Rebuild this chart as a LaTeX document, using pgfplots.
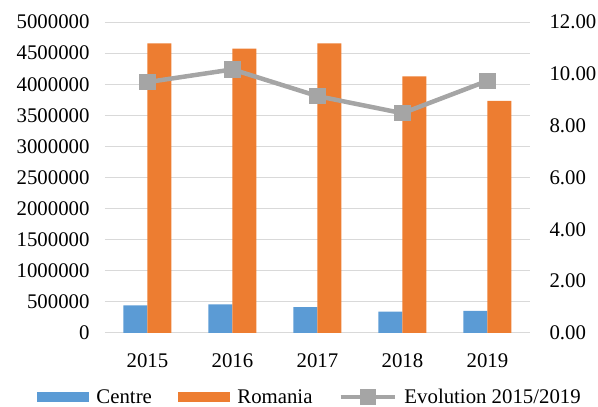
\documentclass[border=0pt]{standalone}
\usepackage{pgfplots}
\pgfplotsset{compat=1.18}
\usepackage{fontspec}
\setmainfont{Liberation Serif}
\definecolor{cblue}{HTML}{5B9BD5}
\definecolor{corange}{HTML}{ED7D31}
\definecolor{cgray}{HTML}{A5A5A5}
\definecolor{cgrid}{HTML}{D9D9D9}
\begin{document}
\begin{tikzpicture}
\path[use as bounding box] (-105pt,-74pt) rectangle (493pt,333pt);
\begin{axis}[
  scale only axis, width=425pt, height=311pt,
  xmin=-0.5, xmax=4.5, ymin=0, ymax=5000000,
  xtick={0,1,2,3,4}, xticklabels={2015,2016,2017,2018,2019},
  ytick distance=500000,
  scaled y ticks=false,
  axis lines*=left, axis line style={draw=none},
  major tick length=0pt,
  ymajorgrids, grid style={cgrid, line width=1pt},
  /pgf/number format/assume math mode=true,
  y tick label style={/tikz/xshift=-12pt},
  yticklabel style={/pgf/number format/.cd, fixed, 1000 sep={}},
  tick label style={font=\fontsize{20.8}{24}\selectfont},
  xticklabel style={yshift=-17pt},
  legend columns=3,
  legend style={at={(0.482,-0.206)}, anchor=center, draw=none, fill=none,
    font=\fontsize{20.8}{24}\selectfont,
    /tikz/every odd column/.append style={column sep=5.5pt},
    /tikz/every even column/.append style={column sep=24pt}},
]
\addplot[ybar, bar width=24pt, bar shift=-12pt, fill=cblue, draw=none,
  legend image code/.code={\fill[cblue] (0pt,-5pt) rectangle (52pt,5pt);}]
  coordinates {(0,445000) (1,461000) (2,418000) (3,343000) (4,354000)};
\addlegendentry{Centre}
\addplot[ybar, bar width=24pt, bar shift=12pt, fill=corange, draw=none,
  legend image code/.code={\fill[corange] (0pt,-5pt) rectangle (52pt,5pt);}]
  coordinates {(0,4658000) (1,4571000) (2,4658000) (3,4127000) (4,3730000)};
\addlegendentry{Romania}
\addlegendimage{cgray, line width=4.5pt,
  legend image code/.code={\draw[cgray, line width=4.5pt] (0pt,0pt) -- (54pt,0pt);
    \fill[cgray] (22pt,-6pt) rectangle (33pt,6pt);}}
\addlegendentry{Evolution 2015/2019}
\end{axis}
\begin{axis}[
  scale only axis, width=425pt, height=311pt,
  xmin=-0.5, xmax=4.5, ymin=0, ymax=12,
  axis x line=none, axis y line*=right, axis line style={draw=none},
  major tick length=0pt,
  ytick={0,2,...,12},
  /pgf/number format/assume math mode=true,
  y tick label style={/tikz/xshift=16pt},
  yticklabel style={/pgf/number format/.cd, fixed, fixed zerofill, precision=2},
  tick label style={font=\fontsize{20.8}{24}\selectfont},
]
\addplot[cgray, line width=4.5pt, mark=square*, mark size=6pt]
  coordinates {(0,9.68) (1,10.17) (2,9.14) (3,8.48) (4,9.73)};
\end{axis}
\end{tikzpicture}
\end{document}
